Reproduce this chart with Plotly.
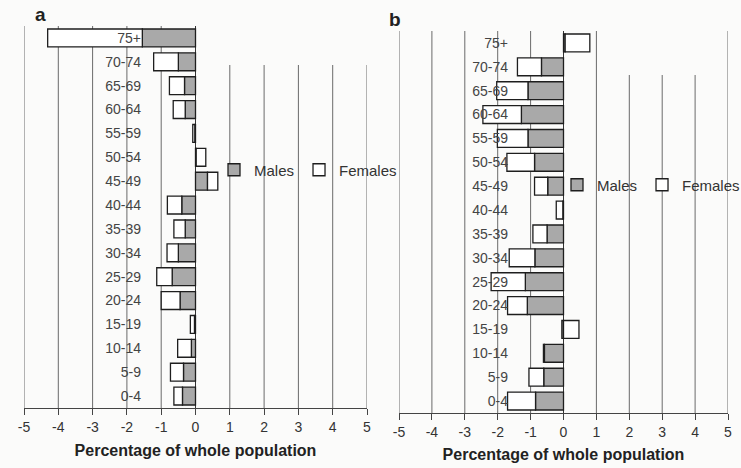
import plotly.graph_objects as go

W, H = 741, 468

age_groups = ["0-4", "5-9", "10-14", "15-19", "20-24", "25-29", "30-34", "35-39",
              "40-44", "45-49", "50-54", "55-59", "60-64", "65-69", "70-74", "75+"]

# Panel a (values listed in the same order as age_groups, bottom to top)
a_males = [-0.38, -0.35, -0.12, -0.03, -0.45, -0.68, -0.50, -0.30,
           -0.40, 0.35, 0.02, -0.02, -0.30, -0.32, -0.50, -1.55]
a_females = [-0.25, -0.38, -0.40, -0.12, -0.55, -0.45, -0.33, -0.33,
             -0.42, 0.30, 0.28, -0.06, -0.35, -0.44, -0.72, -2.76]

# Panel b
b_males = [-0.85, -0.60, -0.58, -0.05, -1.10, -1.16, -0.87, -0.50,
           -0.02, -0.48, -0.88, -1.08, -1.28, -1.08, -0.67, 0.05]
b_females = [-0.85, -0.45, -0.03, 0.47, -0.60, -1.04, -0.78, -0.43,
             -0.20, -0.40, -0.84, -0.93, -1.17, -0.95, -0.73, 0.75]

x_ticks = [-5, -4, -3, -2, -1, 0, 1, 2, 3, 4, 5]
panel_labels = ["a", "b"]
series_names = ["Males", "Females"]
x_title = "Percentage of whole population"

MALE_FILL = "#a9a9a9"
FEMALE_FILL = "#ffffff"
EDGE = "#1e1e1e"
GRID = "#6a6a6a"
FONT = "Liberation Sans, Arial, sans-serif"

fig = go.Figure()

panels = [
    dict(m=a_males, f=a_females, xa="x", ya="y", legend="legend"),
    dict(m=b_males, f=b_females, xa="x2", ya="y2", legend="legend2"),
]
for p in panels:
    fig.add_trace(go.Bar(
        y=age_groups, x=p["m"], orientation="h", name=series_names[0],
        marker=dict(color=MALE_FILL, line=dict(color=EDGE, width=1.3)),
        xaxis=p["xa"], yaxis=p["ya"], legend=p["legend"],
    ))
    fig.add_trace(go.Bar(
        y=age_groups, x=p["f"], orientation="h", name=series_names[1],
        marker=dict(color=FEMALE_FILL, line=dict(color=EDGE, width=1.3)),
        xaxis=p["xa"], yaxis=p["ya"], legend=p["legend"],
    ))

def px_x(v):
    return v / W

def px_y(v):
    return 1 - v / H

def xaxis_style(standoff):
    return dict(
        range=[-5, 5], tickvals=x_ticks, ticktext=[str(t) for t in x_ticks],
        showgrid=False,
        zeroline=True, zerolinecolor="#333333", zerolinewidth=1.3,
        showline=True, linecolor="#444444", linewidth=1.3,
        ticks="outside", ticklen=6, tickcolor="#444444",
        tickfont=dict(family=FONT, size=14, color="#333333"),
        title=dict(text="<b>" + x_title + "</b>",
                   font=dict(family=FONT, size=16, color="#222222"), standoff=standoff),
        automargin=False, fixedrange=True,
    )

yaxis_common = dict(
    type="category", categoryorder="array", categoryarray=age_groups,
    showgrid=False, zeroline=False, showline=False, ticks="",
    tickfont=dict(family=FONT, size=14, color="#444444"),
    anchor="free", automargin=False, fixedrange=True,
)

legend_style = dict(orientation="h", xanchor="left", yanchor="middle",
                    bgcolor="rgba(0,0,0,0)", itemwidth=30, borderwidth=0,
                    font=dict(family=FONT, size=15, color="#333333"))

# plot-area geometry (pixels)
A_X, A_Y = (24, 367), (408, 26)
B_X, B_Y = (399, 728), (413, 31)
# scanned original: some gridlines start lower (partially hidden at top)
A_GRID_TOP = {1: 65, 2: 65, 3: 65, 4: 65, 5: 65}
B_GRID_TOP = {2: 75, 3: 75, 4: 75}

fig.update_layout(
    width=W, height=H,
    margin=dict(l=0, r=0, t=0, b=0, autoexpand=False),
    paper_bgcolor="#fbfbfa", plot_bgcolor="rgba(0,0,0,0)",
    barmode="relative", bargap=0.25,
    xaxis=dict(domain=[px_x(A_X[0]), px_x(A_X[1])], anchor="y", **xaxis_style(10)),
    yaxis=dict(domain=[px_y(A_Y[0]), px_y(A_Y[1])], position=px_x(141), **yaxis_common),
    xaxis2=dict(domain=[px_x(B_X[0]), px_x(B_X[1])], anchor="y2", **xaxis_style(9)),
    yaxis2=dict(domain=[px_y(B_Y[0]), px_y(B_Y[1])], position=px_x(508), **yaxis_common),
    legend=dict(x=px_x(214), y=px_y(170), **legend_style),
    legend2=dict(x=px_x(557), y=px_y(185), **legend_style),
    showlegend=True,
)

for xref, (ybot, ytop), tops in [("x", A_Y, A_GRID_TOP), ("x2", B_Y, B_GRID_TOP)]:
    for t in x_ticks:
        if t == 0:
            continue
        fig.add_shape(type="line", xref=xref, yref="paper", x0=t, x1=t,
                      y0=px_y(ybot), y1=px_y(tops.get(t, ytop)),
                      line=dict(color=GRID, width=1), layer="below")

for lab, (x, y) in zip(panel_labels, [(40, 15), (395, 20)]):
    fig.add_annotation(text="<b>" + lab + "</b>", x=px_x(x), y=px_y(y), xref="paper", yref="paper",
                       xanchor="center", yanchor="middle", showarrow=False,
                       font=dict(family=FONT, size=19, color="#222222"))

fig.write_html("out.html")
